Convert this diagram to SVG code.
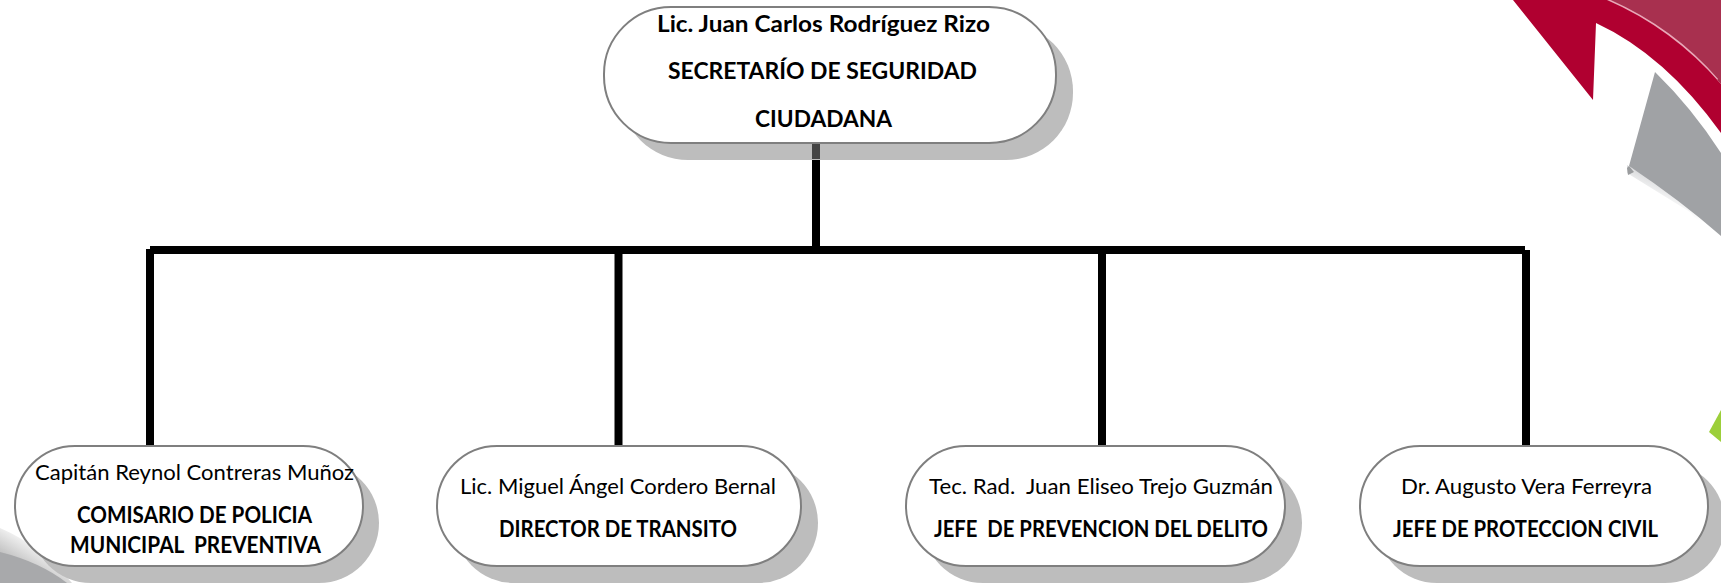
<svg xmlns="http://www.w3.org/2000/svg" width="1721" height="583" viewBox="0 0 1721 583">
<defs>
<linearGradient id="fade" gradientUnits="userSpaceOnUse" x1="1690" y1="190" x2="1680" y2="212">
<stop offset="0" stop-color="#d4d5d7"/><stop offset="1" stop-color="#ffffff"/>
</linearGradient>
<linearGradient id="blfade" gradientUnits="userSpaceOnUse" x1="30" y1="535" x2="15" y2="560">
<stop offset="0" stop-color="#ffffff"/><stop offset="0.6" stop-color="#dcdcdc"/><stop offset="1" stop-color="#c4c4c4"/>
</linearGradient>
</defs>
<style>
.sh{fill:#bdbdbd}
.b{fill:#fff;stroke:#7f7f7f;stroke-width:2}
text{font-family:"Lato","Liberation Sans",sans-serif;font-size:22px;fill:#000;white-space:pre;text-anchor:start}
.h{font-weight:700}
.c{fill:none;stroke:#000;stroke-width:8}
</style>
<rect width="1721" height="583" fill="#fff"/>
<g id="decor">
<path d="M1607 0Q1672 28 1721 84V0Z" fill="#a8304f"/>
<path d="M1607 0Q1672 28 1717 80" fill="none" stroke="#e8a8b8" stroke-width="3"/>
<path d="M1513 0L1593 100L1596 23Q1665 55 1721 133V84Q1672 28 1607 0Z" fill="#b00030"/>
<path d="M1627 173L1690 212Q1708 232 1721 262V236Q1680 196 1627 165Z" fill="url(#fade)"/>
<path d="M1655 72Q1692 108 1721 153V236Q1680 200 1629 166Z" fill="#a0a2a5"/>
<path d="M1627 168L1629 166L1634 172L1628 175Z" fill="#9a9c9e"/>
<path d="M1709 432L1721 410V442Z" fill="#9ccf3a"/>
<path d="M0 528Q40 545 72 583H0Z" fill="url(#blfade)"/>
<path d="M0 552Q40 562 67 583H0Z" fill="#a8a9ab"/>
</g>
<g id="connectors">
<path class="c" d="M816 143V247M150 250H1525M150 249V446M618.500 253V446M1102 253V446M1526 250V446"/>
</g>
<g id="top">
<rect class="sh" x="621" y="24" width="452" height="136" rx="67" ry="67"/>
<rect class="b" x="604" y="7" width="452" height="136" rx="67" ry="67"/>
<rect x="812" y="144" width="8" height="15" fill="#444"/>
<text class="h" x="657" y="32" textLength="333" lengthAdjust="spacingAndGlyphs">Lic. Juan Carlos Rodríguez Rizo</text>
<text class="h" x="668" y="79" textLength="309" lengthAdjust="spacingAndGlyphs">SECRETARÍO DE SEGURIDAD</text>
<text class="h" x="755" y="127" textLength="137" lengthAdjust="spacingAndGlyphs">CIUDADANA</text>
</g>
<g id="n1">
<rect class="sh" x="31" y="463" width="348" height="120" rx="60" ry="60"/>
<rect class="b" x="15" y="446" width="348" height="120" rx="60" ry="60"/>
<text x="35" y="480" textLength="319" lengthAdjust="spacingAndGlyphs">Capitán Reynol Contreras Muñoz</text>
<text class="h" x="77" y="523" textLength="235" lengthAdjust="spacingAndGlyphs">COMISARIO DE POLICIA</text>
<text class="h" x="70" y="553" textLength="251" lengthAdjust="spacingAndGlyphs">MUNICIPAL  PREVENTIVA</text>
</g>
<g id="n2">
<rect class="sh" x="454" y="463" width="364" height="120" rx="60" ry="60"/>
<rect class="b" x="437" y="446" width="364" height="120" rx="60" ry="60"/>
<text x="460" y="494" textLength="316" lengthAdjust="spacingAndGlyphs">Lic. Miguel Ángel Cordero Bernal</text>
<text class="h" x="499" y="537" textLength="238" lengthAdjust="spacingAndGlyphs">DIRECTOR DE TRANSITO</text>
</g>
<g id="n3">
<rect class="sh" x="923" y="463" width="379" height="120" rx="60" ry="60"/>
<rect class="b" x="906" y="446" width="379" height="120" rx="60" ry="60"/>
<text x="929" y="494" textLength="344" lengthAdjust="spacingAndGlyphs">Tec. Rad.  Juan Eliseo Trejo Guzmán</text>
<text class="h" x="934" y="537" textLength="334" lengthAdjust="spacingAndGlyphs">JEFE  DE PREVENCION DEL DELITO</text>
</g>
<g id="n4">
<rect class="sh" x="1377" y="463" width="348" height="120" rx="60" ry="60"/>
<rect class="b" x="1360" y="446" width="348" height="120" rx="60" ry="60"/>
<text x="1401" y="494" textLength="251" lengthAdjust="spacingAndGlyphs">Dr. Augusto Vera Ferreyra</text>
<text class="h" x="1393" y="537" textLength="265" lengthAdjust="spacingAndGlyphs">JEFE DE PROTECCION CIVIL</text>
</g>
</svg>
